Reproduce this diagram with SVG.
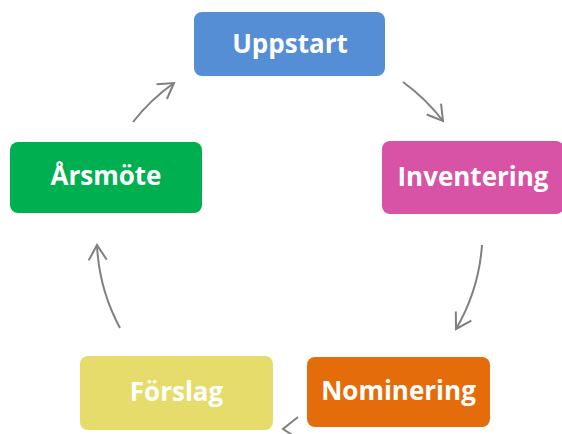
<svg xmlns="http://www.w3.org/2000/svg" width="562" height="434" viewBox="0 0 562 434">
<style>
.box{stroke:none}
.lbl{font-family:"Open Sans","DejaVu Sans",sans-serif;font-weight:700;font-size:26px;fill:#ffffff;text-anchor:middle}
.con{fill:none;stroke:#808080;stroke-width:2;marker-end:url(#arr)}
.head{fill:none;stroke:#808080;stroke-width:2}
</style>
<defs>
<marker id="arr" markerUnits="userSpaceOnUse" markerWidth="30" markerHeight="30" refX="0" refY="0" viewBox="-20 -15 30 30" orient="auto" overflow="visible">
<path d="M -15 -9 L 0 0 L -15 9" fill="none" stroke="#808080" stroke-width="2"/>
</marker>
</defs>
<rect width="562" height="434" fill="#ffffff"/>
<g id="connectors">
<path class="con" d="M 403 82 A 193 193 0 0 1 443 121"/>
<path class="con" d="M 482 245 A 193 193 0 0 1 456 329"/>
<path class="head" d="M 298 417 L 283 429 L 297 438"/>
<path class="con" d="M 120 328 A 193 193 0 0 1 97 245"/>
<path class="con" d="M 133 122 A 193 193 0 0 1 174 83"/>
</g>
<g id="uppstart">
<rect class="box" x="194" y="12" width="191" height="64" rx="8" fill="#558ED5"/>
<text class="lbl" x="290" y="53">Uppstart</text>
</g>
<g id="inventering">
<rect class="box" x="382" y="141" width="182" height="73" rx="8" fill="#D853A6"/>
<text class="lbl" x="473" y="186">Inventering</text>
</g>
<g id="nominering">
<rect class="box" x="307" y="357" width="183" height="70" rx="8" fill="#E46C0A"/>
<text class="lbl" x="398.5" y="400">Nominering</text>
</g>
<g id="forslag">
<rect class="box" x="80" y="356" width="193" height="74" rx="8" fill="#E6DC6B"/>
<text class="lbl" x="176.5" y="401">Förslag</text>
</g>
<g id="arsmote">
<rect class="box" x="10" y="142" width="192" height="71" rx="8" fill="#00B050"/>
<text class="lbl" x="106" y="185">Årsmöte</text>
</g>
</svg>
